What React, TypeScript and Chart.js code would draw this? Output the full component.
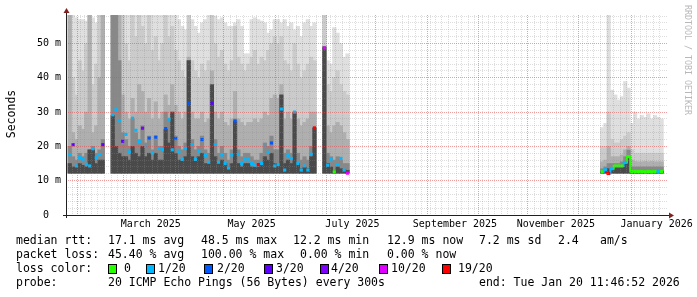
import React, { useEffect, useRef } from "react";
import { Chart, registerables } from "chart.js";

Chart.register(...registerables);

// ---- time axis (day of year 2025; 365 = Jan 1 2026) ----
const X_START = 24.49; // Jan 25 2025 11:46
const X_END = 384.49; // Jan 20 2026 11:46
const Y_MAX = 58.3;
const SMOKE_FLOOR = 12.2;

const MONTH_STARTS = [31, 59, 90, 120, 151, 181, 212, 243, 273, 304, 334, 365];
const LABEL_DAYS = [74, 135, 196, 258, 319, 380];
const MONTH_LABELS = ["March 2025", "May 2025", "July 2025", "September 2025", "November 2025", "January 2026"];

// ---- smoke columns (2-day steps) ----
const DAYS = [
  25, 27, 29, 31, 33, 35, 37, 39, 41, 43, 45,
  51, 53, 55, 57, 59, 61, 63, 65, 67, 69, 71, 73, 75, 77, 79, 81, 83, 85, 87, 89,
  91, 93, 95, 97, 99, 101, 103, 105, 107, 109, 111, 113, 115, 117, 119, 121, 123, 125, 127, 129,
  131, 133, 135, 137, 139, 141, 143, 145, 147, 149, 151, 153, 155, 157, 159, 161, 163, 165, 167, 169,
  171, 173,
  179, 181, 183, 185, 187, 189, 191, 193,
  347, 349, 351, 353, 355, 357, 359, 361, 363, 365, 367, 369, 371, 373, 375, 377, 379, 381, 383,
];
// lightest smoke (outer pings)
const SMOKE_TOP = [
  58.3, 58.3, 57.5, 57, 57, 56.5, 58.3, 57.5, 56, 58.3, 58.3,
  58.3, 58.3, 58.3, 58.3, 58.3, 58.3, 58.3, 58.3, 58.3, 58.3, 58.3, 58.3, 58.3, 58.3, 58.3, 58.3, 58.3, 58.3, 58.3, 58.3,
  57, 55, 54, 58.3, 57, 55, 53, 56, 57, 58.3, 58.3, 58, 57, 57.5, 56, 55, 55, 56, 57, 55,
  47, 47, 57, 57.5, 57, 56.5, 56, 53, 54, 57, 57, 56, 57, 55, 56, 54, 55, 52, 56, 57,
  55, 56,
  58.3, 45, 44, 54.6, 53, 50, 46, 47,
  25.5, 26.7, 58.3, 36.4, 35, 33.5, 34.5, 38.9, 37, 26.7, 30, 28, 29, 28.5, 29.5, 28, 29, 28.5, 28,
];
const SMOKE_L2 = [
  58.3, 40, 35, 45, 42, 50, 58.3, 38, 44, 58.3, 58.3,
  58.3, 58.3, 58.3, 58.3, 50, 45, 58.3, 52, 58.3, 55, 50, 58.3, 48, 52, 45, 50, 58.3, 52, 55, 48,
  45, 42, 40, 58.3, 45, 42, 40, 44, 42, 45, 58.3, 50, 46, 48, 44, 42, 45, 55, 46, 44,
  42, 44, 46, 48, 44, 46, 45, 48, 50, 52, 50, 52, 45, 44, 42, 50, 44, 40, 42, 44,
  46, 45,
  58.3, 38, 36, 40, 42, 38, 36, 35,
  20, 20, 30, 22, 21, 21, 22, 23, 24, 19, 18, 18, 18, 18, 18, 18, 18, 18, 18,
];
const SMOKE_L3 = [
  58.3, 24, 22, 26, 25, 30, 58.3, 24, 26, 40, 58.3,
  58.3, 58.3, 58.3, 35, 30, 28, 34, 30, 38, 36, 30, 34, 28, 33, 28, 30, 35, 32, 38, 32,
  30, 28, 30, 46, 30, 28, 28, 30, 27, 28, 42, 30, 28, 30, 27, 26, 28, 36, 28, 27,
  26, 27, 27, 28, 27, 28, 30, 29, 34, 35, 34, 38, 28, 30, 28, 30, 28, 26, 27, 28,
  30, 30,
  49, 26, 24, 26, 27, 26, 24, 22,
  15.5, 16, 20, 17, 17, 17, 17.5, 19, 20, 16, 15.6, 15.5, 15.5, 15.6, 15.5, 15.6, 15.5, 15.5, 15.5,
];
const SMOKE_L4 = [
  20, 17, 16, 18, 17, 18, 19, 20, 18, 19, 22,
  58.3, 58.3, 45, 24, 22, 20, 28, 24, 22, 26, 21, 23, 19, 23, 20, 20, 30, 28, 30, 23,
  20, 19, 21, 45, 22, 19, 20, 23, 19, 18, 38, 22, 18, 20, 18, 16, 19, 28, 19, 17,
  18, 18, 17, 16, 16, 18, 21, 20, 23, 19, 19, 35, 18, 19, 18, 30, 18, 16, 17, 16,
  20, 25.4,
  49, 18, 17, 16, 17, 16, 15, 15,
  13.5, 14, 15, 15, 15, 15, 15.5, 17, 18.9, 14, 14, 14, 14, 14, 14, 14, 14, 14, 14,
];
// darkest smoke (pings closest to the median)
const SMOKE_CORE = [
  15, 14, 14, 15, 14.5, 14, 19, 19, 15, 16, 16,
  29, 20, 18, 17, 17, 16, 20, 18, 17, 20, 17, 18, 16, 18, 16, 16, 25, 21, 30, 18,
  16, 16, 17, 45, 17, 16, 17, 18, 15, 15, 38, 17, 15, 16, 15, 14, 15, 27.4, 15, 14,
  15, 15, 14, 14, 14, 15, 17, 16, 18, 15, 15, 35, 15, 16, 15, 30, 15, 13.5, 14, 13.5,
  17, 25.4,
  49, 15, 14, 13, 14, 13.5, 13.2, 13,
  12.6, 13, 13.5, 13.5, 14.3, 14.3, 14.3, 15.3, 17, 12.7, 12.7, 12.7, 12.7, 12.6, 12.7, 12.6, 12.7, 12.7, 12.7,
];
const MEDIAN = [
  17.6, 20.5, 14.3, 16.7, 16.2, 14.8, 14.3, 19.3, 16.7, 17.6, 20.5,
  29.2, 30.7, 27.5, 21.5, 23.5, 18.4, 28.2, 24.7, 21.4, 25.3, 20, 22.4, 18.1, 22.7, 19.5, 19.1, 25.2, 27.9, 19, 22.3,
  18.4, 16.2, 19.5, 32.6, 20.5, 16.2, 18.6, 22, 17.4, 15.4, 32.6, 20.5, 15.4, 17.5, 15, 13.7, 17.5, 27.4, 17.7, 15,
  16.2, 16.2, 15, 14.5, 14.7, 15, 20, 18.3, 21, 14.3, 14.7, 30.9, 13.1, 17.3, 16.5, 30, 15, 13.1, 14.3, 13.1,
  17.7, 25.4,
  48.7, 14.5, 16.2, 12.6, 14.7, 16.5, 13.1, 12.2,
  12.6, 13.2, 12.1, 13.5, 14.3, 14.3, 14.3, 15.3, 17, 12.7, 12.7, 12.7, 12.7, 12.6, 12.7, 12.6, 12.7, 12.7, 12.7,
];
// index into LOSS_LABELS / LOSS_COLORS
const LOSS = [
  1, 3, 1, 1, 1, 1, 1, 1, 1, 1, 3,
  1, 1, 1, 3, 1, 1, 1, 1, 1, 4, 1, 2, 1, 2, 1, 1, 2, 1, 1, 2,
  1, 1, 1, 2, 1, 1, 1, 2, 1, 1, 3, 1, 1, 1, 1, 1, 1, 2, 1, 1,
  1, 1, 1, 1, 6, 1, 1, 1, 2, 1, 1, 1, 1, 1, 1, 1, 1, 1, 1, 1,
  1, 6,
  5, 1, 1, 0, 1, 1, 1, 5,
  0, 1, 6, 1, 0, 0, 0, 1, 0, 0, 0, 0, 0, 0, 0, 0, 0, 1, 0,
];

const LOSS_LABELS = ["0", "1/20", "2/20", "3/20", "4/20", "10/20", "19/20"];
const LOSS_COLORS = ["#26ff00", "#00b8ff", "#0059ff", "#5e00ff", "#7e00ff", "#dd00ff", "#ff0000"];

const RTT_STATS = ["17.1 ms avg", "48.5 ms max", "12.2 ms min", "12.9 ms now", "7.2 ms sd", "2.4", "am/s"];
const LOSS_STATS = ["45.40 % avg", "100.00 % max", "0.00 % min", "0.00 % now"];
const PROBE_TEXT = "20 ICMP Echo Pings (56 Bytes) every 300s";
const END_TEXT = "end: Tue Jan 20 11:46:52 2026";

const SMOKE_COLORS = ["#dfdfdf", "#cbcbcb", "#afafaf", "#888888", "#4a4a4a"];
const MONO = '"DejaVu Sans Mono", monospace';
const RED_GRID = "rgba(222,79,79,0.55)";
const GRAY_GRID = "rgba(143,143,143,0.3)";

const minorDays: number[] = [];
for (let d = 28; d <= 384; d += 4) minorDays.push(d);
const xTickSet = Array.from(new Set([...minorDays, ...MONTH_STARTS, ...LABEL_DAYS])).sort((a, b) => a - b);
const yTicks: number[] = [];
for (let v = 0; v <= 58; v += 2) yTicks.push(v);

const overlay = {
  id: "overlay",
  afterDraw(chart: any) {
    const ctx = chart.ctx as CanvasRenderingContext2D;
    const { left, right, top, bottom } = chart.chartArea;
    ctx.save();
    // axes
    ctx.strokeStyle = "#202020";
    ctx.lineWidth = 1;
    ctx.beginPath();
    ctx.moveTo(left - 3, bottom + 0.5);
    ctx.lineTo(right + 2, bottom + 0.5);
    ctx.moveTo(left + 0.5, bottom + 3);
    ctx.lineTo(left + 0.5, top - 2);
    ctx.stroke();
    // arrows
    ctx.fillStyle = "#802020";
    ctx.beginPath();
    ctx.moveTo(left + 0.5, top - 7);
    ctx.lineTo(left - 2.5, top - 2);
    ctx.lineTo(left + 3.5, top - 2);
    ctx.closePath();
    ctx.fill();
    ctx.beginPath();
    ctx.moveTo(right + 7, bottom + 0.5);
    ctx.lineTo(right + 2, bottom - 2.5);
    ctx.lineTo(right + 2, bottom + 3.5);
    ctx.closePath();
    ctx.fill();

    // y title
    ctx.fillStyle = "#000";
    ctx.font = `11.5px ${MONO}`;
    ctx.textAlign = "center";
    ctx.textBaseline = "middle";
    ctx.save();
    ctx.translate(12, 114);
    ctx.rotate(-Math.PI / 2);
    ctx.fillText("Seconds", 0, 0);
    ctx.restore();

    // watermark
    ctx.save();
    ctx.fillStyle = "#b8b8b8";
    ctx.font = `8.3px ${MONO}`;
    ctx.translate(687, 60);
    ctx.rotate(Math.PI / 2);
    ctx.fillText("RRDTOOL / TOBI OETIKER", 0, 0);
    ctx.restore();

    // legend
    ctx.textAlign = "left";
    ctx.textBaseline = "middle";
    ctx.fillStyle = "#000";
    ctx.font = `11.5px ${MONO}`;
    const r1 = 241, r2 = 255, r3 = 269, r4 = 283;
    ctx.fillText("median rtt:", 16, r1);
    const rttX = [108, 201, 293, 387, 479, 558, 600];
    RTT_STATS.forEach((s, i) => ctx.fillText(s, rttX[i], r1));
    ctx.fillText("packet loss:", 16, r2);
    const lossX = [108, 201, 300, 387];
    LOSS_STATS.forEach((s, i) => ctx.fillText(s, lossX[i], r2));
    ctx.fillText("loss color:", 16, r3);
    const boxX = [108, 146, 204, 264, 320, 379, 442];
    const labX = [124, 158, 217, 276, 331, 391, 458];
    LOSS_LABELS.forEach((lab, i) => {
      ctx.fillStyle = LOSS_COLORS[i];
      ctx.fillRect(boxX[i], r3 - 5, 9, 10);
      ctx.strokeStyle = "#000";
      ctx.strokeRect(boxX[i] + 0.5, r3 - 4.5, 8, 9);
      ctx.fillStyle = "#000";
      ctx.fillText(lab, labX[i], r3);
    });
    ctx.fillText("probe:", 16, r4);
    ctx.fillText(PROBE_TEXT, 108, r4);
    ctx.fillText(END_TEXT, 479, r4);
    ctx.restore();
  },
};

function smokeDataset(values: number[], color: string, order: number) {
  return {
    type: "bar" as const,
    data: DAYS.map((d, i) => ({ x: d, y: [SMOKE_FLOOR, values[i]] })),
    backgroundColor: color,
    borderWidth: 0,
    barThickness: 3.5,
    grouped: false,
    order,
  };
}

export default function App() {
  const ref = useRef<HTMLCanvasElement | null>(null);
  useEffect(() => {
    if (!ref.current) return;
    const rightIdx = DAYS.map((d, i) => i).filter((i) => DAYS[i] > 300);
    const chart = new Chart(ref.current, {
      data: {
        datasets: [
          smokeDataset(SMOKE_TOP, SMOKE_COLORS[0], 10),
          smokeDataset(SMOKE_L2, SMOKE_COLORS[1], 9),
          smokeDataset(SMOKE_L3, SMOKE_COLORS[2], 8),
          smokeDataset(SMOKE_L4, SMOKE_COLORS[3], 7),
          smokeDataset(SMOKE_CORE, SMOKE_COLORS[4], 6),
          {
            type: "line" as const,
            data: rightIdx.map((i) => ({ x: DAYS[i], y: MEDIAN[i] })),
            borderWidth: 2,
            borderColor: LOSS_COLORS[0],
            stepped: "middle",
            pointRadius: 0,
            segment: {
              borderColor: (c: any) => LOSS_COLORS[LOSS[rightIdx[c.p1DataIndex]]],
            },
            order: 2,
          } as any,
          {
            type: "line" as const,
            data: DAYS.map((d, i) => ({ x: d, y: MEDIAN[i] })),
            showLine: false,
            pointStyle: "rect",
            pointRadius: 2.2,
            pointBorderWidth: 0,
            pointBackgroundColor: LOSS.map((l) => LOSS_COLORS[l]),
            order: 1,
          } as any,
        ],
      },
      options: {
        animation: false,
        responsive: false,
        devicePixelRatio: 1,
        events: [],
        layout: { padding: { top: 15, right: 30, left: 0, bottom: 0 } },
        plugins: { legend: { display: false }, tooltip: { enabled: false } },
        scales: {
          x: {
            type: "linear",
            min: X_START,
            max: X_END,
            position: "bottom",
            afterBuildTicks: (s: any) => {
              s.ticks = xTickSet.map((v) => ({ value: v }));
            },
            afterFit: (s: any) => {
              s.height = 82;
            },
            grid: {
              z: 1,
              drawTicks: false,
              lineWidth: 1,
              color: (c: any) => {
                const v = c.tick ? c.tick.value : -1;
                if (MONTH_STARTS.includes(v)) return RED_GRID;
                if (minorDays.includes(v)) return GRAY_GRID;
                return "rgba(0,0,0,0)";
              },
            },
            border: { display: false, dash: [1, 1] },
            ticks: {
              autoSkip: false,
              maxRotation: 0,
              minRotation: 0,
              padding: 3,
              color: "#000",
              font: { family: MONO, size: 10 },
              callback: (v: any) => {
                const k = LABEL_DAYS.indexOf(Number(v));
                return k >= 0 ? MONTH_LABELS[k] : "";
              },
            },
          },
          y: {
            type: "linear",
            min: 0,
            max: Y_MAX,
            afterBuildTicks: (s: any) => {
              s.ticks = yTicks.map((v) => ({ value: v }));
            },
            afterFit: (s: any) => {
              s.width = 66;
            },
            grid: {
              z: 1,
              drawTicks: false,
              lineWidth: 1,
              color: (c: any) => {
                const v = c.tick ? c.tick.value : 0;
                if (v === 0) return "rgba(0,0,0,0)";
                return v % 10 === 0 ? RED_GRID : GRAY_GRID;
              },
            },
            border: { display: false, dash: [1, 1] },
            ticks: {
              autoSkip: false,
              padding: 5,
              color: "#000",
              font: { family: MONO, size: 10 },
              callback: (v: any) => {
                const n = Number(v);
                if (n % 10 !== 0) return "";
                return n === 0 ? "0  " : `${n} m`;
              },
            },
          },
        },
      } as any,
      plugins: [overlay],
    });
    return () => chart.destroy();
  }, []);

  return (
    <div style={{ position: "absolute", left: 0, top: 0, width: 697, height: 297, background: "#fff" }}>
      <canvas ref={ref} width={697} height={297} style={{ display: "block" }} />
    </div>
  );
}
